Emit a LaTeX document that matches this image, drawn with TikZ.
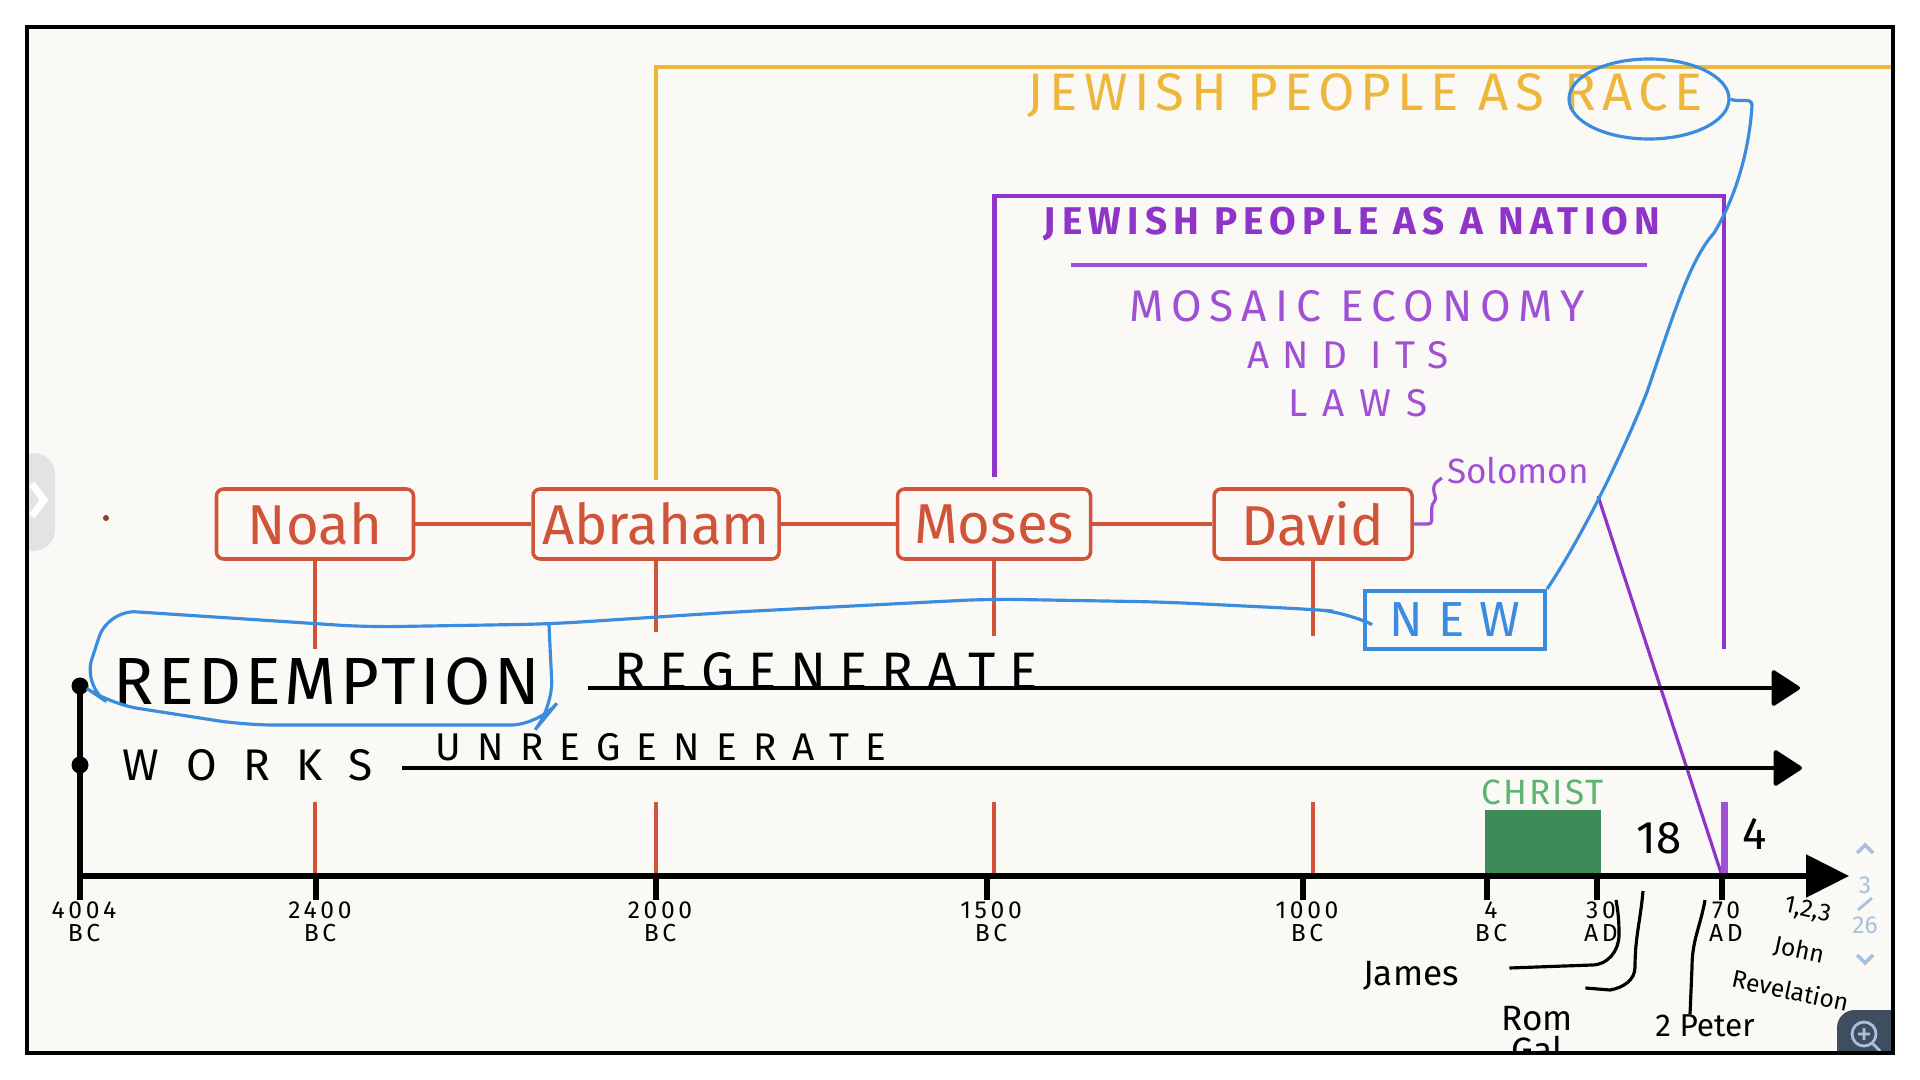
\documentclass[tikz,border=0pt]{standalone}
\usepackage{fontspec}
\setmainfont{Fira Sans}
\usetikzlibrary{positioning,arrows.meta,shapes.geometric}

\definecolor{brick}{RGB}{208,84,58}
\definecolor{gold}{RGB}{238,182,58}
\definecolor{plum}{RGB}{142,52,200}
\definecolor{plumsoft}{RGB}{160,80,212}
\definecolor{sky}{RGB}{58,140,222}
\definecolor{leaf}{RGB}{62,139,87}
\definecolor{leaftext}{RGB}{92,180,112}
\definecolor{paper}{RGB}{251,249,246}
\definecolor{slate}{RGB}{62,78,94}
\definecolor{pale}{RGB}{168,192,222}

\newcommand{\hand}[2]{\fontsize{#1}{#1}\selectfont\addfontfeature{LetterSpace=#2}}
\newcommand{\yearfont}{\fontsize{7}{6.5}\selectfont\addfontfeature{LetterSpace=15}}

\begin{document}
\begin{tikzpicture}[
    person/.style={draw=brick, line width=1pt, rounded corners=2pt, text=brick, minimum height=0.7cm, inner sep=1pt, font=\hand{16}{0}},
    link/.style={brick, line width=1pt},
    axis/.style={line width=1.5pt},
    track/.style={line width=1.1pt, -{Triangle[length=3mm,width=3.8mm,round]}},
    skyline/.style={sky, line width=0.9pt},
    year/.style={font=\yearfont, align=center, inner sep=0pt},
    ink/.style={line width=0.9pt},
    note/.style={inner sep=0pt, font=\hand{10}{0}}
  ]
  \useasboundingbox (0,0) rectangle (19.2,-10.8);
  \fill[white] (0,0) rectangle (19.2,-10.8);
  \fill[paper] (0.27,-0.27) rectangle (18.93,-10.53);

  \begin{scope}
  \clip (0.27,-0.27) rectangle (18.93,-10.53);
  % ui bits
  \fill[gray!22, rounded corners=6pt] (0.05,-4.53) rectangle (0.55,-5.51);
  \draw[white, line width=2pt] (0.32,-4.84) -- (0.44,-5.0) -- (0.32,-5.16);
  \fill[brick!70!black] (1.06,-5.18) circle (0.03);
  \draw[pale, line width=1pt] (18.57,-8.53) -- (18.65,-8.45) -- (18.73,-8.53);
  \node[pale, font=\hand{7}{0}] (page) at (18.65,-8.85) {3};
  \draw[pale, line width=0.8pt] (18.58,-9.10) -- (18.72,-8.98);
  \node[pale, font=\hand{7}{0}] (pages) at (18.65,-9.25) {26};
  \draw[pale, line width=1pt] (18.57,-9.55) -- (18.65,-9.63) -- (18.73,-9.55);
  \fill[slate, rounded corners=5pt] (18.37,-10.10) rectangle (19.2,-10.9);
  \draw[pale, line width=0.8pt] (18.64,-10.34) circle (0.12) (18.72,-10.43) -- (18.80,-10.51)
    (18.58,-10.34) -- (18.70,-10.34) (18.64,-10.28) -- (18.64,-10.40);

  % people
  \node[person, minimum width=1.97cm] (noah) at (3.15,-5.24) {Noah};
  \node[person, minimum width=2.46cm, right=1.16cm of noah] (abraham) {Abraham};
  \node[person, minimum width=1.93cm, right=1.15cm of abraham] (moses) {Moses};
  \node[person, minimum width=1.98cm, right=1.2cm of moses] (david) {David};
  \draw[link] (noah) -- (abraham);
  \draw[link] (abraham) -- (moses);
  \draw[link] (moses) -- (david);
  \foreach \n/\l in {noah/0.88, abraham/0.71, moses/0.75, david/0.75}
    \draw[link] (\n.south) -- ++(0,-\l);

  % race and nation
  \draw[gold, line width=1.4pt] ([yshift=2pt]abraham.north) |- (19.0,-0.67);
  \node[gold, font=\hand{15}{12}] (race) at (13.65,-0.96) {JEWISH PEOPLE AS RACE};
  \draw[plum, line width=1.4pt] ([yshift=3pt]moses.north) |- (17.24,-1.96) -- (17.24,-6.49);
  \node[plum, font=\bfseries\hand{11}{16}] (nation) at (13.52,-2.24) {JEWISH PEOPLE AS A NATION};
  \draw[plumsoft, line width=1pt] (10.71,-2.65) -- (16.47,-2.65);
  \node[plumsoft, font=\hand{12.6}{18}] (mosaic) at (13.57,-3.06) {MOSAIC ECONOMY};
  \node[plumsoft, font=\hand{11}{34}] (andits) at (13.48,-3.55) {AND ITS};
  \node[plumsoft, font=\hand{11}{39}] (laws) at (13.58,-4.03) {LAWS};
  \node[plumsoft, note] (solomon) at (15.18,-4.71) {Solomon};
  \draw[plumsoft, line width=0.9pt, rounded corners=1pt] (david.east) -- ++(0.18,0) -- ++(0,0.2)
    -- ++(0.05,0.05) -- ++(-0.03,0.05) -- ++(0,0.1) -- ++(0.08,0.06);

  % timeline
  \coordinate (ax0) at (0.80,-8.76);
  \coordinate (ax1) at (18.49,-8.76);
  \foreach \n in {noah,abraham,moses,david}
    \draw[link] (\n |- 0,-8.02) -- (\n |- ax0);
  \node[fill=leaf, minimum width=1.16cm, minimum height=0.65cm, anchor=south west, inner sep=0pt] (life) at (14.84,-8.76) {};
  \node[leaftext, above=0.04cm of life, inner sep=0pt, font=\hand{10}{6}] (christ) {CHRIST};
  \coordinate (fall) at (15.98,-4.96);
  \coordinate (seventy) at (17.22,-8.76);
  \draw[plum, line width=0.9pt] (fall) -- (seventy);
  \draw[plumsoft, line width=2pt] (17.24,-8.02) -- (17.24,-8.76);
  \draw[axis, -{Triangle[length=4.3mm,width=4.2mm]}] (ax0) -- (ax1);
  \foreach \x/\yr/\era in {0.80/4004/BC, 3.16/2400/BC, 6.56/2000/BC, 9.87/1500/BC,
      13.03/1000/BC, 14.87/4/BC, 15.97/30/AD, 17.22/70/AD} {
    \draw[axis] (\x,-8.76) -- (\x,-9.0);
    \node[year] at (\x+0.04,-9.22) {\yr\\\era};
  }
  \node[font=\hand{13}{0}] (eighteen) at (16.59,-8.38) {18};
  \node[font=\hand{13}{0}] (four) at (17.55,-8.34) {4};

  % two ways
  \fill (0.80,-6.86) circle (0.085);
  \fill (0.80,-7.65) circle (0.085);
  \draw[axis] (0.80,-6.86) -- (0.80,-8.76);
  \node[font=\hand{19}{6}] (redemption) at (3.27,-6.81) {REDEMPTION};
  \node[font=\hand{15}{26}] (regenerate) at (8.26,-6.71) {REGENERATE};
  \node[font=\hand{12.6}{60}] (works) at (2.48,-7.65) {WORKS};
  \node[font=\hand{11}{42}] (unregenerate) at (6.61,-7.47) {UNREGENERATE};
  \draw[track] (5.88,-6.88) -- (18.00,-6.88);
  \draw[track] (4.02,-7.68) -- (18.02,-7.68);

  % new
  \node[draw=sky, line width=1.2pt, text=sky, minimum width=1.8cm, minimum height=0.58cm, font=\hand{14}{31}] (new) at (14.55,-6.20) {NEW};
  \draw[skyline, rounded corners=8pt] (new.west) -- (13.47,-6.12) -- (13.05,-6.09) -- (11.63,-6.02)
    -- (9.89,-5.99) -- (7.35,-6.12) -- (5.49,-6.24) -- (3.67,-6.27) -- (1.08,-6.10) -- (0.83,-6.86)
    -- (1.10,-7.04) -- (2.45,-7.25) -- (5.39,-7.25) -- (5.53,-7.08) -- (5.49,-6.25);
  \node[draw=sky, line width=0.9pt, ellipse, minimum width=1.6cm, minimum height=0.8cm] (ring) at (16.49,-0.99) {};
  \draw[skyline] (new.north east) .. controls (15.8,-5.4) and (16.2,-4.6) .. (16.47,-3.92)
    .. controls (16.75,-3.1) and (16.9,-2.6) .. (17.14,-2.33)
    .. controls (17.4,-1.9) and (17.5,-1.4) .. (17.52,-1.05) to[out=95,in=-30] (ring.east);

  % letters
  \coordinate (jamesfoot) at (16.16,-9.00);
  \coordinate (romfoot) at (16.43,-8.91);
  \coordinate (peterfoot) at (17.05,-9.00);
  \node[note] (james) at (14.11,-9.76) {James};
  \node[note] (rom) at (15.37,-10.19) {Rom};
  \node[note] (gal) at (15.37,-10.50) {Gal};
  \node[note, font=\hand{9}{0}] (peter) at (17.05,-10.26) {2 Peter};
  \draw[ink] (jamesfoot) to[out=-80,in=90] (16.19,-9.35) to[out=-90,in=0] (15.92,-9.65) -- ([xshift=0.5cm,yshift=0.08cm]james.east);
  \draw[ink] (romfoot) to[out=-95,in=90] (16.35,-9.67) to[out=-90,in=10] (16.10,-9.90) -- ([xshift=0.12cm,yshift=0.18cm]rom.north east);
  \draw[ink] (peterfoot) to[out=-100,in=90] (16.92,-9.67) -- ([xshift=-0.15cm]peter.north);
  \node[rotate=-12, inner sep=0pt, align=center, font=\fontsize{7}{12}\selectfont] (epistles) at (17.99,-9.50) {1,2,3\\John\\Revelation};
  \end{scope}

  \draw[line width=1.4pt] (0.27,-0.27) rectangle (18.93,-10.53);
\end{tikzpicture}
\end{document}
